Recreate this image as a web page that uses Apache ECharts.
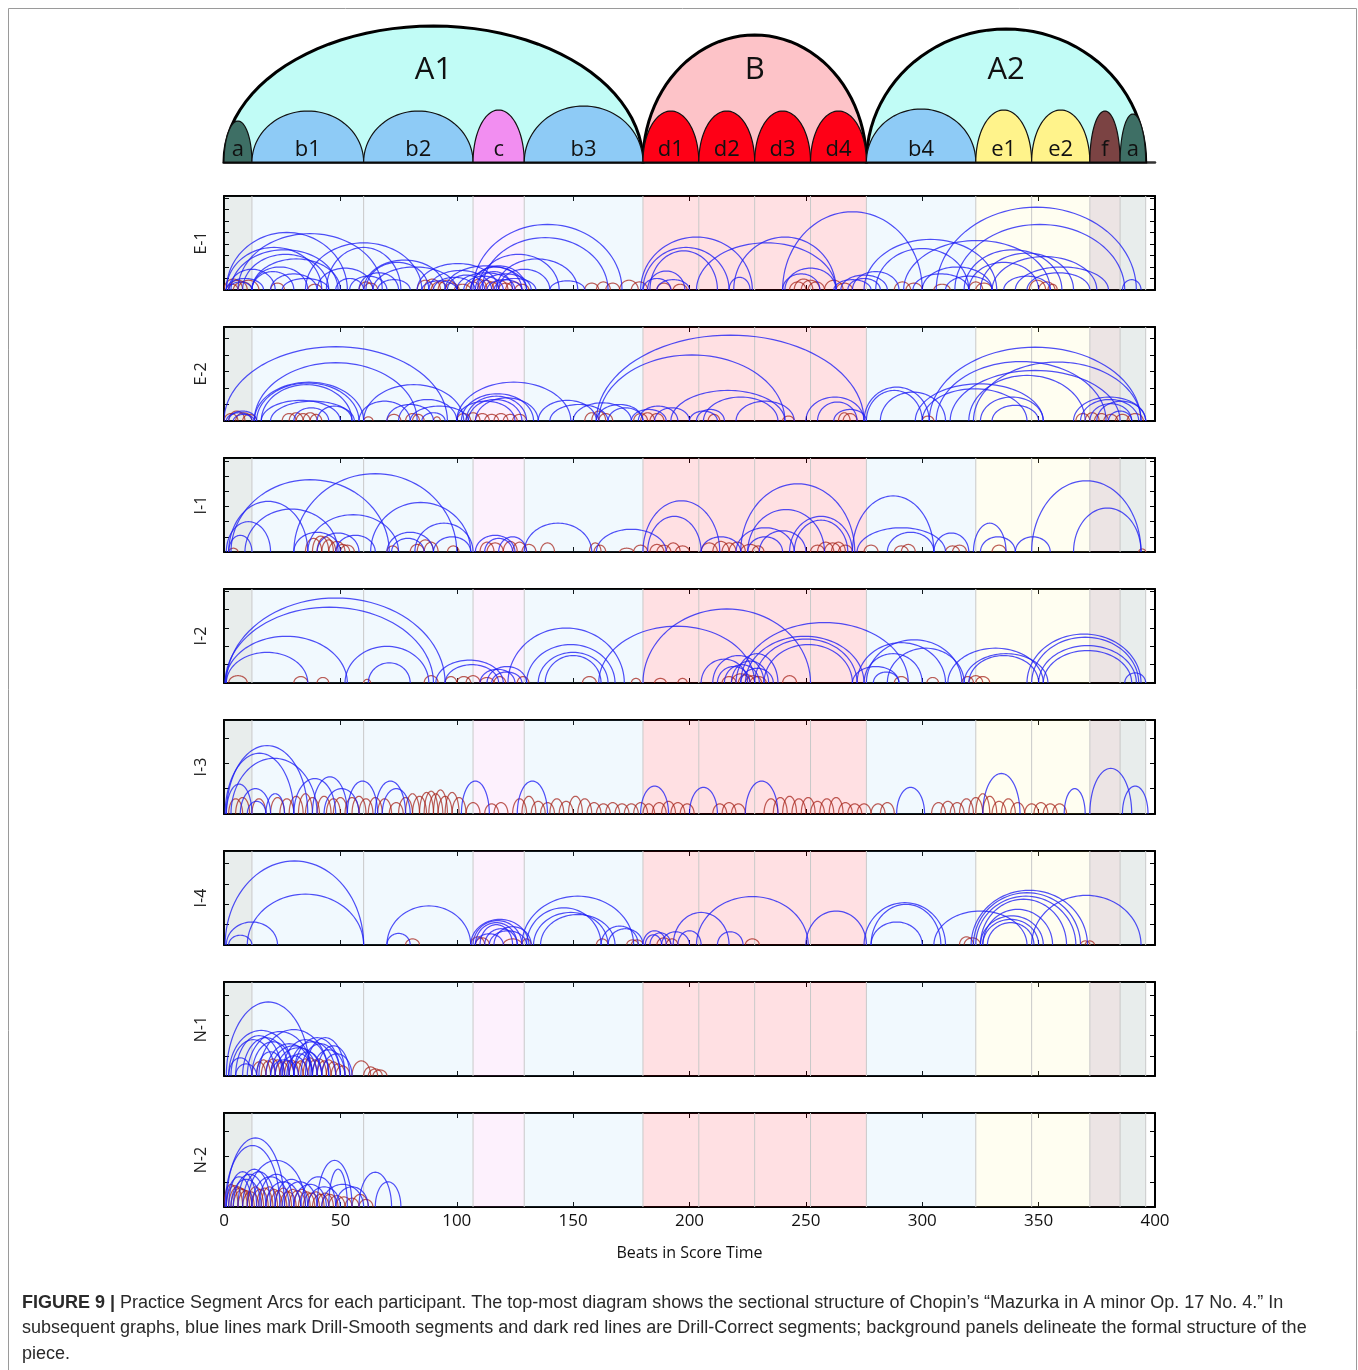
<!DOCTYPE html>
<html>
<head>
<meta charset="utf-8">
<script src="https://cdn.jsdelivr.net/npm/echarts@6/dist/echarts.min.js"></script>
<style>
  html, body { margin: 0; padding: 0; background: #fff; }
  #chart { width: 1358px; height: 1370px; }
</style>
</head>
<body>
<div id="chart"></div>
<script>
// ---- Formal structure of the mazurka (positions in beats) ----
const sectionNames   = ['a', 'b1', 'b2', 'c', 'b3', 'd1', 'd2', 'd3', 'd4', 'b4', 'e1', 'e2', 'f', 'a'];
const sectionStarts  = [0, 12, 60, 107, 129, 180, 204, 228, 252, 276, 323, 347, 372, 385];
const sectionEnds    = [12, 60, 107, 129, 180, 204, 228, 252, 276, 323, 347, 372, 385, 396];
const sectionHeights = [41, 51, 51, 52, 56, 51, 51, 51, 51, 53, 52, 52, 51, 48];
const sectionColors  = ['#3e6f65', '#8ecbf6', '#8ecbf6', '#f28ef1', '#8ecbf6', '#fe0016', '#fe0016',
                        '#fe0016', '#fe0016', '#8ecbf6', '#fff38b', '#fff38b', '#7b4343', '#3e6f65'];

const partNames   = ['A1', 'B', 'A2'];
const partStarts  = [0, 180, 276];
const partEnds    = [180, 276, 396];
const partHeights = [136, 127, 133];
const partColors  = ['#c1fcf6', '#fdc3c8', '#c1fcf6'];

// ---- Participants and the vertical extent of each panel ----
const participants = ['E-1', 'E-2', 'I-1', 'I-2', 'I-3', 'I-4', 'N-1', 'N-2'];
const panelYMax    = [8.17, 5.69, 6.2, 5.13, 3.71, 4.62, 4.66, 3.73];
const xTicks       = [0, 50, 100, 150, 200, 250, 300, 350, 400];

// ---- Practice segments: [start beat, end beat, arc height] ----
// Drill-Smooth segments
const smoothE1 = [
  [1,53,5.0],[6,68,4.9],[1,42,3.7],[3,49,3.5],[8,45,3.1],[12,50,2.7],[2,22,1.8],[1,17,1.0],[12,30,1.6],[12,36,2.0],
  [20,40,1.4],[2,12,0.7],[25,45,1.0],
  [35,85,4.1],[44,76,3.7],[40,64,1.9],[60,95,2.6],[61,88,2.4],[64,100,2.0],[48,60,1.0],[54,70,1.2],[66,80,0.9],[58,75,1.5],
  [83,118,2.3],[88,115,1.7],[95,130,2.1],[100,125,1.5],[103,120,1.2],[110,132,1.4],[106,128,2.0],[85,100,0.8],[113,128,0.9],
  [90,108,1.1],[96,112,1.3],[108,124,1.6],[116,134,1.0],
  [107,171,5.7],[111,165,4.55],[109,144,3.1],[117,152,2.7],[118,140,1.8],[106,130,2.1],[140,155,0.8],
  [179,227,4.6],[180,217,3.7],[183,212,3.4],[203,263,4.1],[219,263,4.6],[182,198,1.65],[217,226,1.1],[241,263,1.9],
  [240,256,1.4],[180,192,1.0],[186,200,0.9],
  [240,300,6.8],[265,285,1.3],[268,282,1.0],[270,290,1.6],[262,278,0.9],
  [275,332,4.4],[280,320,3.6],[292,355,4.3],[300,330,2.0],[296,320,1.4],[310,330,1.2],
  [306,392,7.2],[314,387,5.7],[318,360,3.5],[320,350,2.4],[325,365,3.2],[330,375,2.9],[340,380,2.0],[345,372,1.5],[335,355,1.2],
  [386,394,0.9]
];
const smoothE2 = [
  [0,96,4.5],[13,83,3.53],[13,60,2.35],[14,58,2.3],[16,55,2.2],[60,103,2.2],[16,50,1.25],[20,56,1.2],
  [1,12,0.5],[2,14,0.6],[4,13,0.4],
  [100,149,2.35],[102,133,1.65],[104,130,1.5],[105,128,1.3],[108,135,1.4],[100,125,1.2],
  [135,160,1.25],[140,165,1.0],[150,175,1.1],[160,180,1.0],[165,180,0.8],
  [160,275,5.2],[161,241,4.0],[192,241,1.85],[206,238,1.45],[220,245,1.2],
  [200,212,0.6],[203,215,0.7],[185,200,0.8],[175,190,0.7],[178,195,0.9],
  [250,275,1.45],[255,272,1.15],[262,276,0.7],
  [275,303,2.05],[276,300,1.85],[282,310,1.75],
  [303,394,4.47],[306,379,3.6],[322,394,3.57],[312,385,3.06],[320,370,2.76],[297,352,2.25],[300,345,1.95],[325,352,1.45],[330,350,0.95],
  [365,396,1.45],[368,393,1.3],[372,390,1.05],[375,396,1.2],[380,390,0.6],
  [58,80,1.2],[70,90,1.0],[75,100,1.3],[80,105,0.9],[85,95,0.5],[30,45,0.8],[40,55,0.9]
];
const smoothI1 = [
  [3,71,4.77],[30,100,5.17],[2,36,3.34],[9,49,2.83],[36,75,2.46],[63,106,3.27],[82,107,1.9],[1,20,2.0],[2,12,1.1],
  [40,58,1.25],[48,65,1.1],[30,50,1.3],[70,90,1.3],[72,86,0.9],[90,106,1.0],[108,125,1.1],[112,124,0.9],[118,130,1.0],
  [129,158,1.9],[160,190,1.5],
  [180,213,3.38],[182,205,2.35],
  [222,271,4.5],[225,258,2.8],[243,270,2.35],[245,268,2.1],[220,245,1.6],[230,250,1.4],[205,222,1.0],[225,240,1.0],
  [270,305,3.7],[272,310,1.6],[285,305,1.3],[305,320,1.25],[325,340,1.0],[322,336,1.9],[340,355,1.0],
  [347,394,4.7],[365,394,2.9]
];
const smoothI2 = [
  [1,95,4.64],[0.5,90,4.14],[0.5,53,2.55],[1,36,1.67],[52,88,2.0],[62,80,1.1],
  [91,120,1.25],[95,118,1.0],[110,125,0.75],[113,130,0.9],[115,128,0.6],
  [122,172,3.0],[130,168,2.1],[135,165,1.67],[138,162,1.5],
  [161,228,3.1],[180,252,4.04],[222,294,3.3],[224,275,2.55],[228,272,2.4],[232,270,2.1],
  [210,232,1.5],[215,230,1.0],[218,234,1.2],[212,226,0.9],[220,238,1.6],[222,236,0.8],[205,225,1.3],
  [276,317,2.36],[272,310,2.2],[285,318,1.9],[275,300,1.6],[270,290,0.9],[279,290,0.6],
  [311,352,1.9],[318,354,1.6],[320,350,1.5],
  [345,394,2.67],[347,393,2.5],[350,392,2.04],[352,390,1.77],[387,396,0.55]
];
const smoothI3 = [
  [1,36,2.7],[0.5,30,2.4],[3,40,2.2],[1,12,1.18],[7,20,1.0],[10,18,0.5],[18,26,0.8],
  [30,48,1.4],[38,53,1.47],[43,58,1.0],[53,66,1.3],[65,78,1.3],[68,80,1.0],
  [102,114,1.3],[126,139,1.3],[179,191,1.1],[200,212,1.05],[224,238,1.3],
  [289,301,1.05],[326,342,1.6],[361,370,1.0],[372,390,1.8],[386,397,1.1]
];
const smoothI4 = [
  [0.5,60,4.13],[10,60,2.5],[1,23,1.13],[2,12,0.48],[70,106,1.92],[70,80,0.57],
  [106,131,1.26],[107,128,1.2],[108,126,1.1],[110,124,1.0],[112,126,0.8],[114,130,0.7],[108,120,0.55],[116,132,0.9],
  [128,176,2.4],[130,162,1.83],[133,165,1.6],[136,168,1.5],[162,178,0.93],[165,180,0.8],
  [180,190,0.7],[181,188,0.5],[183,192,0.6],[193,217,1.6],[195,205,0.7],[188,200,0.65],
  [203,251,2.38],[212,223,0.65],[250,276,1.67],
  [275,310,2.08],[278,308,2.0],[278,300,1.13],
  [321,371,2.69],[322,368,2.57],[323,366,2.4],[325,362,2.25],[326,356,1.75],[325,352,1.43],[326,350,1.26],[328,348,1.1],
  [347,394,2.44],[305,345,1.67]
];
const smoothN1 = [
  [1,37,3.67],[2,30,2.26],[10,38,2.2],[15,45,2.3],[3,22,1.8],[5,25,2.0],[8,28,1.9],[12,30,1.7],[18,38,1.6],[20,40,1.5],
  [22,42,1.4],[25,45,1.8],[28,48,1.7],[30,50,1.9],[35,52,1.9],[33,50,1.6],[38,52,1.3],[40,54,1.5],[24,36,1.0],[27,38,1.1],
  [14,26,1.2],[2,12,0.9],[5,14,0.6],[42,55,1.1],[20,32,0.8],[30,42,1.2]
];
const smoothN2 = [
  [1,26,2.74],[0.5,24,2.44],[10,35,1.85],[40,55,1.85],[45,53,1.5],[58,72,1.38],[65,76,1.0],[2,14,1.4],[1,12,1.2],[3,16,1.1],
  [4,18,1.3],[6,20,1.5],[8,22,1.4],[12,28,1.2],[15,30,1.3],[18,33,1.0],[22,36,1.1],[25,40,1.0],[30,44,0.9],[33,48,1.2],
  [36,50,0.8],[42,60,0.9],[48,62,0.8]
];

// Drill-Correct segments
const correctE1 = [
  [0,8,0.95],[2,10,0.85],[4,12,0.7],[6,15,0.85],[1,6,0.5],[20,26,0.6],[36,42,0.5],[58,64,0.7],[60,66,0.6],[83,90,0.85],
  [86,93,0.95],[89,96,0.7],[92,100,0.85],[95,101,0.6],[99,106,0.5],[104,110,0.7],[106,113,0.95],[109,116,0.85],[112,118,0.7],
  [115,122,0.85],[118,124,0.6],[121,128,0.7],[125,131,0.5],[155,161,0.6],[160,166,0.7],[164,170,0.6],[170,178,0.85],
  [175,182,0.7],[186,192,0.6],[193,199,0.5],[243,250,0.7],[245,253,0.95],[248,256,0.85],[251,258,0.7],[258,266,0.85],
  [263,270,0.6],[288,295,0.7],[293,300,0.6],[305,312,0.5],[320,326,0.7],[323,330,0.6],[346,353,0.85],[350,357,0.7],[354,358,0.5]
];
const correctE2 = [
  [0,6,0.45],[2,9,0.6],[5,12,0.5],[8,14,0.4],[25,31,0.45],[28,34,0.5],[31,37,0.45],[34,40,0.5],[37,42,0.4],[60,64,0.25],
  [70,76,0.4],[78,84,0.45],[81,86,0.4],[90,93,0.25],[100,106,0.45],[104,110,0.5],[108,114,0.45],[112,118,0.4],[116,122,0.45],
  [120,126,0.4],[124,130,0.4],[155,161,0.5],[158,164,0.6],[161,167,0.45],[176,182,0.45],[179,185,0.5],[183,189,0.45],
  [208,213,0.4],[240,245,0.3],[264,269,0.5],[266,272,0.45],[300,305,0.3],[366,372,0.45],[370,376,0.5],[374,380,0.45],
  [378,384,0.4],[383,389,0.4],[388,395,0.45]
];
const correctI1 = [
  [2,6,0.25],[35,42,0.9],[38,45,1.05],[40,47,1.0],[42,48,0.8],[45,52,0.7],[48,54,0.5],[50,56,0.45],[70,75,0.4],[80,86,0.5],
  [83,90,0.8],[86,92,0.65],[96,101,0.4],[110,116,0.65],[113,120,0.6],[120,126,0.7],[124,130,0.65],[128,134,0.5],[136,142,0.6],
  [157,162,0.6],[159,164,0.45],[170,176,0.25],[176,182,0.45],[183,189,0.5],[186,192,0.45],[190,196,0.6],[194,200,0.4],
  [205,212,0.6],[210,217,0.7],[214,220,0.6],[217,224,0.65],[222,230,0.5],[227,232,0.4],[252,258,0.45],[255,262,0.65],
  [258,265,0.6],[261,267,0.65],[264,270,0.45],[275,281,0.45],[288,294,0.4],[291,297,0.5],[310,316,0.4],[313,319,0.45],
  [330,336,0.45],[393,396,0.2]
];
const correctI2 = [
  [2,10,0.4],[30,36,0.35],[40,45,0.3],[60,63,0.2],[86,92,0.4],[95,100,0.35],[100,106,0.35],[104,110,0.4],[110,116,0.3],
  [116,121,0.35],[126,131,0.35],[154,160,0.35],[175,179,0.25],[185,190,0.25],[195,199,0.25],[214,220,0.35],[218,226,0.5],
  [221,228,0.45],[224,231,0.4],[226,233,0.35],[240,246,0.4],[288,294,0.35],[302,307,0.3],[317,322,0.35],[320,326,0.4],[323,329,0.35]
];
const correctI3 = [
  [2,8,0.6],[5,11,0.65],[12,18,0.6],[20,26,0.65],[24,30,0.6],[28,34,0.7],[32,38,0.8],[35,41,0.65],[40,46,0.7],[44,50,0.6],
  [47,53,0.65],[52,58,0.65],[55,61,0.7],[58,64,0.6],[62,68,0.65],[66,72,0.6],[71,77,0.45],[75,81,0.65],[78,84,0.8],[81,87,0.7],
  [84,90,0.85],[86,92,0.9],[88,94,0.8],[90,96,0.95],[92,98,0.7],[95,101,0.85],[98,104,0.65],[104,110,0.45],[112,118,0.4],
  [116,122,0.45],[124,130,0.6],[128,134,0.7],[132,138,0.5],[136,142,0.45],[140,146,0.6],[144,150,0.5],[148,154,0.7],
  [152,158,0.6],[156,162,0.45],[160,166,0.4],[164,170,0.45],[168,174,0.4],[172,178,0.4],[176,182,0.45],[180,185,0.4],
  [184,190,0.45],[188,194,0.5],[192,198,0.45],[196,202,0.4],[210,216,0.4],[214,220,0.45],[218,224,0.4],[232,238,0.6],
  [236,242,0.65],[240,246,0.7],[244,250,0.6],[248,254,0.65],[252,258,0.5],[256,262,0.6],[260,266,0.65],[264,270,0.45],
  [268,274,0.4],[272,278,0.4],[278,284,0.4],[282,288,0.45],[304,310,0.45],[308,314,0.5],[312,318,0.45],[316,322,0.6],
  [320,326,0.65],[323,329,0.8],[326,332,0.7],[330,336,0.5],[334,340,0.6],[338,344,0.45],[344,350,0.4],[348,354,0.45],
  [352,358,0.4],[356,362,0.4]
];
const correctI4 = [
  [78,84,0.3],[106,112,0.4],[108,114,0.35],[120,128,0.3],[128,132,0.3],[160,165,0.3],[173,178,0.25],[175,180,0.25],
  [186,192,0.35],[190,195,0.3],[224,230,0.3],[316,322,0.4],[318,325,0.35],[368,372,0.2],[370,374,0.2]
];
const correctN1 = [
  [12,18,0.7],[14,20,0.8],[16,22,0.75],[18,24,0.85],[20,26,0.8],[22,28,0.7],[24,30,0.75],[26,32,0.8],[28,34,0.7],[30,36,0.75],
  [32,38,0.85],[34,40,0.9],[36,42,0.8],[38,44,0.85],[40,46,0.75],[42,48,0.8],[44,50,0.7],[46,52,0.6],[48,54,0.5],[55,63,0.75],
  [60,66,0.45],[62,68,0.35],[64,70,0.3]
];
const correctN2 = [
  [0,6,0.9],[1,8,0.85],[2,10,0.8],[3,11,0.75],[4,12,0.7],[6,13,0.65],[8,15,0.6],[10,17,0.8],[12,19,0.7],[14,21,0.75],
  [16,23,0.8],[18,25,0.7],[20,27,0.65],[22,29,0.75],[24,31,0.6],[26,33,0.7],[28,35,0.65],[30,37,0.7],[32,39,0.6],[34,41,0.55],
  [36,43,0.6],[38,45,0.5],[40,47,0.55],[42,49,0.5],[45,52,0.45],[48,55,0.4],[52,58,0.35],[55,62,0.5],[58,64,0.3]
];

const smoothSets  = [smoothE1, smoothE2, smoothI1, smoothI2, smoothI3, smoothI4, smoothN1, smoothN2];
const correctSets = [correctE1, correctE2, correctI1, correctI2, correctI3, correctI4, correctN1, correctN2];

// ---- Layout and styles ----
const FONT = 'Open Sans';
const PLOT_LEFT = 224, PLOT_WIDTH = 931;
const HEAD_TOP = 20, HEAD_HEIGHT = 142;
const PANEL_TOP = 196, PANEL_STEP = 131, PANEL_HEIGHT = 94;
const SMOOTH_COLOR = 'rgba(30,30,245,0.78)';
const CORRECT_COLOR = 'rgba(165,32,22,0.72)';

function tint(hex, a) {
  const n = parseInt(hex.slice(1), 16);
  return 'rgba(' + (n >> 16) + ',' + ((n >> 8) & 255) + ',' + (n & 255) + ',' + a + ')';
}

// half-ellipse outline from the two feet of a segment and its height
function halfEllipse(api, s, e, h) {
  const a = api.coord([s, 0]), b = api.coord([e, 0]), t = api.coord([s, h]);
  const cx = (a[0] + b[0]) / 2, rx = (b[0] - a[0]) / 2, ry = a[1] - t[1], y0 = a[1];
  const pts = [];
  const n = 48;
  for (let k = 0; k <= n; k++) {
    const th = Math.PI * k / n;
    pts.push([cx - rx * Math.cos(th), y0 - ry * Math.sin(th)]);
  }
  return pts;
}

const grids = [], xAxes = [], yAxes = [], series = [];

// Header: section structure
grids.push({ left: PLOT_LEFT, width: PLOT_WIDTH, top: HEAD_TOP, height: HEAD_HEIGHT });
xAxes.push({
  gridIndex: 0, type: 'value', min: 0, max: 400,
  axisLine: { show: true, onZero: false, lineStyle: { color: '#333', width: 2.5 } },
  axisTick: { show: false }, axisLabel: { show: false }, splitLine: { show: false }
});
yAxes.push({ gridIndex: 0, type: 'value', min: 0, max: HEAD_HEIGHT, show: false });

const partData = partNames.map((n, i) => [partStarts[i], partEnds[i], partHeights[i]]);
series.push({
  type: 'custom', xAxisIndex: 0, yAxisIndex: 0, silent: true, clip: false, z: 2,
  data: partData, encode: { x: [0, 1], y: 2 },
  renderItem(params, api) {
    const i = params.dataIndex;
    const s = api.value(0), e = api.value(1), h = api.value(2);
    const pts = halfEllipse(api, s, e, h);
    const c = api.coord([(s + e) / 2, 92]);
    return { type: 'group', children: [
      { type: 'polygon', shape: { points: pts }, style: { fill: partColors[i], stroke: '#000', lineWidth: 3 } },
      { type: 'text', x: c[0], y: c[1], style: { text: partNames[i], fontSize: 31, fontFamily: FONT, fill: '#111',
        align: 'center', verticalAlign: 'middle' } }
    ] };
  }
});
const sectionData = sectionNames.map((n, i) => [sectionStarts[i], sectionEnds[i], sectionHeights[i]]);
series.push({
  type: 'custom', xAxisIndex: 0, yAxisIndex: 0, silent: true, clip: false, z: 3,
  data: sectionData, encode: { x: [0, 1], y: 2 },
  renderItem(params, api) {
    const i = params.dataIndex;
    const s = api.value(0), e = api.value(1), h = api.value(2);
    const pts = halfEllipse(api, s, e, h);
    const c = api.coord([(s + e) / 2, 12]);
    return { type: 'group', children: [
      { type: 'polygon', shape: { points: pts }, style: { fill: sectionColors[i], stroke: '#111', lineWidth: 1.2 } },
      { type: 'text', x: c[0], y: c[1], style: { text: sectionNames[i], fontSize: 22, fontFamily: FONT, fill: '#111',
        align: 'center', verticalAlign: 'middle' } }
    ] };
  }
});

// Participant panels
participants.forEach((name, p) => {
  const gi = p + 1;
  const last = p === participants.length - 1;
  grids.push({ left: PLOT_LEFT, width: PLOT_WIDTH, top: PANEL_TOP + p * PANEL_STEP, height: PANEL_HEIGHT });
  const frame = { show: true, onZero: false, lineStyle: { color: '#000', width: 2 } };
  const tick = { show: true, inside: true, length: 5, lineStyle: { color: '#000', width: 1 } };
  xAxes.push({
    gridIndex: gi, type: 'value', position: 'bottom', min: xTicks[0], max: xTicks[xTicks.length - 1], interval: 50,
    axisLine: frame, axisTick: tick, splitLine: { show: false },
    axisLabel: { show: last, fontSize: 17, fontFamily: FONT, color: '#111', margin: 6 },
    name: last ? 'Beats in Score Time' : '', nameLocation: 'middle', nameGap: 38,
    nameTextStyle: { fontSize: 16, fontFamily: FONT, color: '#111' }
  });
  xAxes.push({
    gridIndex: gi, type: 'value', position: 'top', min: 0, max: 400, interval: 50,
    axisLine: frame, axisTick: tick, axisLabel: { show: false }, splitLine: { show: false }
  });
  yAxes.push({
    gridIndex: gi, type: 'value', position: 'left', min: 0, max: panelYMax[p], interval: 1,
    axisLine: frame, axisTick: tick, axisLabel: { show: false }, splitLine: { show: false },
    name: name, nameLocation: 'middle', nameGap: 15, nameRotate: 90,
    nameTextStyle: { fontSize: 16, fontFamily: FONT, color: '#222' }
  });
  yAxes.push({
    gridIndex: gi, type: 'value', position: 'right', min: 0, max: panelYMax[p], interval: 1,
    axisLine: frame, axisTick: tick, axisLabel: { show: false }, splitLine: { show: false }
  });
  const xi = 1 + p * 2, yi = 1 + p * 2;

  // section bands behind the arcs
  series.push({
    type: 'custom', xAxisIndex: xi, yAxisIndex: yi, silent: true, z: 1,
    data: sectionData, encode: { x: [0, 1] },
    renderItem(params, api) {
      const i = params.dataIndex;
      const cs = params.coordSys;
      const a = api.coord([api.value(0), 0]), b = api.coord([api.value(1), 0]);
      const kids = [{ type: 'rect', shape: { x: a[0], y: cs.y, width: b[0] - a[0], height: cs.height },
        style: { fill: tint(sectionColors[i], i === 12 ? 0.14 : 0.12) } }];
      if (i > 0) kids.push({ type: 'line', shape: { x1: a[0], y1: cs.y, x2: a[0], y2: cs.y + cs.height },
        style: { stroke: '#c9c9c9', lineWidth: 1 } });
      if (i === sectionNames.length - 1) kids.push({ type: 'line', shape: { x1: b[0], y1: cs.y, x2: b[0], y2: cs.y + cs.height },
        style: { stroke: '#c9c9c9', lineWidth: 1 } });
      return { type: 'group', children: kids };
    }
  });

  const arc = (color, lw) => function (params, api) {
    return { type: 'polyline', shape: { points: halfEllipse(api, api.value(0), api.value(1), api.value(2)) },
      style: { stroke: color, lineWidth: lw, fill: null } };
  };
  series.push({
    type: 'custom', xAxisIndex: xi, yAxisIndex: yi, silent: true, z: 3, clip: true,
    data: correctSets[p], encode: { x: [0, 1], y: 2 }, renderItem: arc(CORRECT_COLOR, 1.2)
  });
  series.push({
    type: 'custom', xAxisIndex: xi, yAxisIndex: yi, silent: true, z: 4, clip: true,
    data: smoothSets[p], encode: { x: [0, 1], y: 2 }, renderItem: arc(SMOOTH_COLOR, 1.2)
  });
});

const CAP_FONT = 'Liberation Sans';
const captionLines = [
  'Practice Segment Arcs for each participant. The top-most diagram shows the sectional structure of Chopin\u2019s \u201cMazurka in A minor Op. 17 No. 4.\u201d In',
  'subsequent graphs, blue lines mark Drill-Smooth segments and dark red lines are Drill-Correct segments; background panels delineate the formal structure of the',
  'piece.'
];

const chart = echarts.init(document.getElementById('chart'), null, { renderer: 'canvas' });
chart.setOption({
  animation: false,
  backgroundColor: '#fff',
  grid: grids, xAxis: xAxes, yAxis: yAxes, series: series,
  graphic: [
    { type: 'rect', shape: { x: 8.5, y: 8.5, width: 1348, height: 1400 }, style: { fill: null, stroke: '#9a9a9a', lineWidth: 1 }, silent: true },
    { type: 'text', x: 22, y: 1303, style: { text: '{b|FIGURE 9 |} ' + captionLines[0], fontSize: 18, fontFamily: CAP_FONT, fill: '#2a2a2a',
      verticalAlign: 'middle', rich: { b: { fontWeight: 'bold', fontSize: 18, fontFamily: CAP_FONT, fill: '#2a2a2a' } } } },
    { type: 'text', x: 22, y: 1328, style: { text: captionLines[1], fontSize: 18, fontFamily: CAP_FONT, fill: '#2a2a2a', verticalAlign: 'middle' } },
    { type: 'text', x: 22, y: 1354, style: { text: captionLines[2], fontSize: 18, fontFamily: CAP_FONT, fill: '#2a2a2a', verticalAlign: 'middle' } }
  ]
});
</script>
</body>
</html>
